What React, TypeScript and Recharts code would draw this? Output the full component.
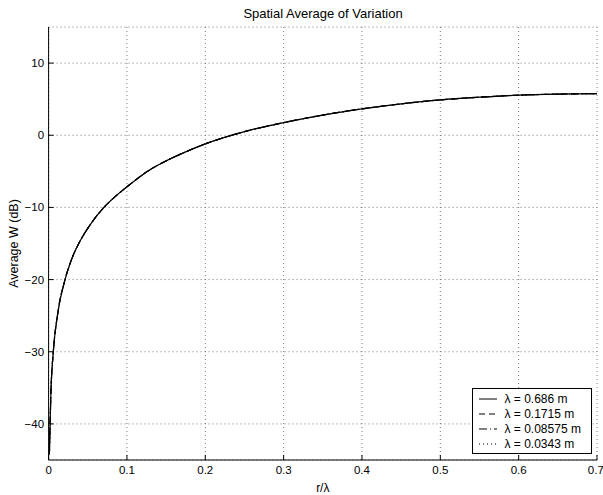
import React from "react";
import { LineChart, Line, XAxis, YAxis, CartesianGrid, Label } from "recharts";

// r/lambda sample positions and average W (dB)
const rOverLambda = [0.001, 0.003, 0.006, 0.0115, 0.021, 0.03, 0.04, 0.055, 0.0706, 0.085, 0.1, 0.129, 0.15, 0.175, 0.2, 0.25, 0.3, 0.35, 0.4, 0.45, 0.5, 0.55, 0.6, 0.65, 0.7];
const avgW = [-44.2, -35.5, -30, -24.8, -20, -17, -14.7, -12.1, -10, -8.5, -7.14, -4.8, -3.55, -2.3, -1.2, 0.5, 1.75, 2.8, 3.65, 4.35, 4.9, 5.27, 5.55, 5.7, 5.78];

const xTicks = [0, 0.1, 0.2, 0.3, 0.4, 0.5, 0.6, 0.7];
const yTicks = [-40, -30, -20, -10, 0, 10];

const seriesKeys = ["l0686", "l01715", "l008575", "l00343"];
const seriesNames = ["λ = 0.686 m", "λ = 0.1715 m", "λ = 0.08575 m", "λ = 0.0343 m"];
const seriesDash = ["", "6 4", "8 3 1 3", "1 3"];

const data = rOverLambda.map((r, i) => {
  const row: Record<string, number> = { r };
  seriesKeys.forEach((k) => (row[k] = avgW[i]));
  return row;
});

const font = "'Liberation Sans', Arial, Helvetica, sans-serif";
const fmt = (v: number) => String(v).replace("-", "\u2212");

export default function App() {
  return (
    <div style={{ position: "absolute", left: 0, top: 0, width: 603, height: 495, background: "#fff", fontFamily: font }}>
      <LineChart width={603} height={495} data={data} margin={{ top: 27, right: 6, bottom: 0, left: 0 }} style={{ fontFamily: font }}>
        <CartesianGrid stroke="#555" strokeDasharray="1 3" strokeWidth={0.8} />
        <XAxis
          dataKey="r"
          type="number"
          domain={[0, 0.7]}
          ticks={xTicks}
          height={35}
          tickSize={-5}
          tickMargin={11}
          stroke="#000"
          tick={{ fill: "#000", fontSize: 11.5 }}
          allowDataOverflow
        >
          <Label value="r/λ" position="insideBottom" offset={3} style={{ fill: "#000", fontSize: 12 }} />
        </XAxis>
        <XAxis
          xAxisId="top"
          orientation="top"
          dataKey="r"
          type="number"
          domain={[0, 0.7]}
          ticks={xTicks}
          height={0}
          tickSize={-5}
          tickFormatter={() => ""}
          stroke="#000"
          allowDataOverflow
        />
        <YAxis
          type="number"
          domain={[-45, 15]}
          ticks={yTicks}
          width={48.6}
          tickSize={-5}
          tickMargin={9.5}
          stroke="#000"
          tickFormatter={fmt}
          tick={{ fill: "#000", fontSize: 11.5 }}
          allowDataOverflow
        >
          <Label
            content={({ viewBox }: any) => {
              const cy = viewBox.y + viewBox.height / 2;
              return (
                <g>
                  <text x={323} y={18} textAnchor="middle" fontSize={13} fill="#000">
                    Spatial Average of Variation
                  </text>
                  <text x={15} y={cy} transform={`rotate(-90 15 ${cy})`} textAnchor="middle" dominantBaseline="middle" fontSize={12.5} fill="#000">
                    Average W (dB)
                  </text>
                </g>
              );
            }}
          />
        </YAxis>
        <YAxis
          yAxisId="right"
          orientation="right"
          type="number"
          domain={[-45, 15]}
          ticks={yTicks}
          width={0}
          tickSize={-5}
          tickFormatter={() => ""}
          stroke="#000"
          allowDataOverflow
        />
        {seriesKeys.map((k, i) => (
          <Line
            key={k}
            dataKey={k}
            name={seriesNames[i]}
            type="monotone"
            stroke="#000"
            strokeWidth={1.2}
            strokeDasharray={seriesDash[i] || undefined}
            dot={false}
            isAnimationActive={false}
          />
        ))}
        <Line xAxisId="top" yAxisId="right" dataKey="l0686" stroke="none" dot={false} legendType="none" isAnimationActive={false} />
      </LineChart>

      {/* legend box, bottom right inside the axes */}
      <div
        style={{
          position: "absolute",
          left: 471.5,
          top: 387.5,
          width: 120,
          height: 66,
          border: "1px solid #000",
          background: "#fff",
          fontSize: 12,
          color: "#000",
          paddingTop: 3.5,
          boxSizing: "border-box",
        }}
      >
        {seriesNames.map((n, i) => (
          <div key={n} style={{ display: "flex", alignItems: "center", height: 14.8 }}>
            <svg width={32} height={10} style={{ flex: "none" }}>
              <line x1={6} y1={5} x2={24} y2={5} stroke="#000" strokeWidth={1} strokeDasharray={seriesDash[i] || undefined} />
            </svg>
            <span style={{ whiteSpace: "nowrap" }}>{n}</span>
          </div>
        ))}
      </div>
    </div>
  );
}
